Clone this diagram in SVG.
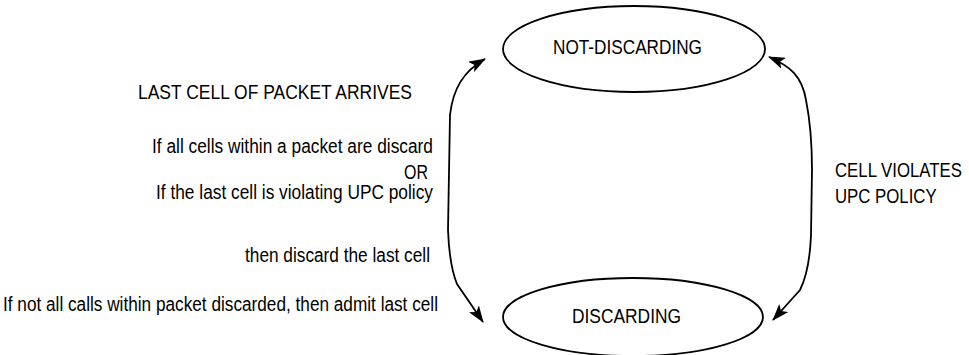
<svg xmlns="http://www.w3.org/2000/svg" width="969" height="355" viewBox="0 0 969 355">
<style>
.node ellipse{fill:#fff;stroke:#000;stroke-width:1.8}
text{font-family:"Liberation Sans",Arial,sans-serif;font-size:20px;fill:#000}
.conn path{fill:none;stroke:#000;stroke-width:1.8}
</style>
<defs>
<marker id="arr" viewBox="0 0 17 12" refX="16" refY="6" markerWidth="17" markerHeight="12" markerUnits="userSpaceOnUse" orient="auto-start-reverse">
<path d="M0,0 L17,6 L0,12 L4,6 z" fill="#000"/>
</marker>
</defs>
<rect width="969" height="355" fill="#fff"/>
<g class="conn" id="connectors">
<path d="M485,59 C464,71 453,88 450,115 L448,230 C449,255 452,272 457,284 L483,322" marker-start="url(#arr)" marker-end="url(#arr)"/>
<path d="M769,57 C790,66 802,76 806,100 C810,120 812,140 812,170 L811,235 C810,260 806,278 800,290 L773,320" marker-start="url(#arr)" marker-end="url(#arr)"/>
</g>
<g class="node" id="not-discarding">
<ellipse cx="634" cy="49" rx="131" ry="43"/>
<text x="553" y="54" textLength="149" lengthAdjust="spacingAndGlyphs">NOT-DISCARDING</text>
</g>
<g class="node" id="discarding">
<ellipse cx="633" cy="317" rx="130" ry="39"/>
<text x="572" y="323" textLength="109" lengthAdjust="spacingAndGlyphs">DISCARDING</text>
</g>
<g id="labels">
<text x="138" y="99" textLength="274" lengthAdjust="spacingAndGlyphs">LAST CELL OF PACKET ARRIVES</text>
<text x="152" y="153" textLength="281" lengthAdjust="spacingAndGlyphs">If all cells within a packet are discard</text>
<text x="404" y="179" textLength="24" lengthAdjust="spacingAndGlyphs">OR</text>
<text x="156" y="199" textLength="277" lengthAdjust="spacingAndGlyphs">If the last cell is violating UPC policy</text>
<text x="245" y="262" textLength="185" lengthAdjust="spacingAndGlyphs">then discard the last cell</text>
<text x="3" y="311" textLength="435" lengthAdjust="spacingAndGlyphs">If not all calls within packet discarded, then admit last cell</text>
<g transform="translate(835,0) scale(0.84,1)">
<text x="0" y="177">CELL VIOLATES</text>
<text x="0" y="203">UPC POLICY</text>
</g>
</g>
</svg>
